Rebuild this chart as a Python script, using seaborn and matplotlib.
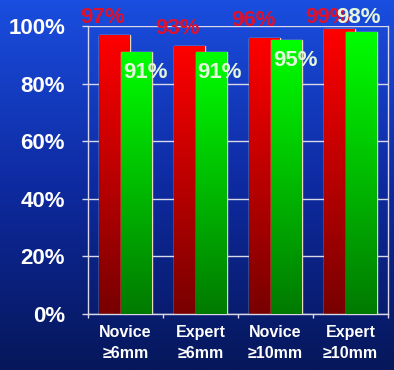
import numpy as np
import pandas as pd
import matplotlib
matplotlib.use("Agg")
import matplotlib.pyplot as plt
from matplotlib.colors import LinearSegmentedColormap
import seaborn as sns

# Données du graphique
categories = ["Novice\n≥6mm", "Expert\n≥6mm", "Novice\n≥10mm", "Expert\n≥10mm"]
red_values = [97, 93, 96, 99]
green_values = [91, 91, 95, 98]
y_ticks = [0, 20, 40, 60, 80, 100]

sns.set_style("white")
plt.rcParams['font.family'] = ['Liberation Sans', 'DejaVu Sans']
plt.rcParams['font.weight'] = 'bold'

fig = plt.figure(figsize=(3.94, 3.70), dpi=100)

# Fond dégradé bleu
bg = fig.add_axes([0, 0, 1, 1], zorder=-1)
bg_cmap = LinearSegmentedColormap.from_list("bg", ["#1a4ee0", "#0e2aa0", "#06175a"])
bg.imshow(np.linspace(0, 1, 256).reshape(-1, 1), aspect='auto', cmap=bg_cmap,
          extent=[0, 1, 0, 1])
bg.set_axis_off()

ax = fig.add_axes([88 / 394, 56 / 370, 300 / 394, 288 / 370])
ax.set_facecolor('none')

pos = np.arange(len(categories))
df = pd.DataFrame({"pos": np.concatenate([pos - 0.147, pos + 0.147]),
                   "val": red_values + green_values,
                   "serie": ["rouge"] * 4 + ["vert"] * 4})

dr = df[df.serie == "rouge"]
dg = df[df.serie == "vert"]
sns.barplot(data=dr, x="pos", y="val", native_scale=True, orient="x", width=0.41,
            color="red", edgecolor="#e8dcc0", linewidth=1, ax=ax, zorder=2)
n_red = len(ax.patches)
sns.barplot(data=dg, x="pos", y="val", native_scale=True, orient="x", width=0.41,
            color="lime", edgecolor="#e8dcc0", linewidth=1, ax=ax, zorder=3)

# Dégradé vertical dans les barres
red_cmap = LinearSegmentedColormap.from_list("r", ["#780000", "#ff0000"])
green_cmap = LinearSegmentedColormap.from_list("g", ["#007a00", "#00ff00"])
grad = np.linspace(0, 1, 256).reshape(-1, 1)
for i, p in enumerate(ax.patches):
    cmap = red_cmap if i < n_red else green_cmap
    x0, w, h = p.get_x(), p.get_width(), p.get_height()
    im = ax.imshow(grad, aspect='auto', cmap=cmap, origin='lower',
                   extent=[x0, x0 + w, 0, h], zorder=p.get_zorder())
    im.set_clip_path(p)

# Étiquettes de valeurs
for i, v in enumerate(red_values):
    ax.text(i - 0.3, min(v + 6, 103), f"{v}%", color="#e0102a", fontsize=16,
            fontweight='bold', ha='center', va='center', zorder=5)
for i, v in enumerate(green_values):
    if v >= 98:
        x, y = i + 0.11, 103
    else:
        x, y = i + 0.26, v - 7
    ax.text(x, y, f"{v}%", color="#e4f7dc", fontsize=16, fontweight='bold',
            ha='center', va='center', zorder=6)

ax.set_xlim(-0.5, 3.5)
ax.set_ylim(0, 100)
ax.set_yticks(y_ticks)
ax.set_yticklabels([f"{t}%" for t in y_ticks])
ax.set_xticks(pos)
ax.set_xticklabels(categories, linespacing=1.5)
ax.set_xticks(np.arange(-0.5, 4, 1), minor=True)
ax.set_xlabel("")
ax.set_ylabel("")

ax.yaxis.grid(True, color="#d8d8e8", linewidth=1, zorder=0)
ax.set_axisbelow(True)
ax.tick_params(axis='y', colors="#d8d8e8", labelcolor="white", labelsize=16,
               length=4.5, width=1, pad=12, left=True, direction='out')
ax.tick_params(axis='x', which='major', labelcolor="white", labelsize=11.5,
               length=0, pad=8)
ax.tick_params(axis='x', which='minor', colors="#d8d8e8", length=3, width=1,
               bottom=True, direction='out')
for t in ax.get_xticklabels() + ax.get_yticklabels():
    t.set_fontweight('bold')

for s in ["left", "right", "bottom"]:
    ax.spines[s].set_visible(True)
    ax.spines[s].set_color("#d8d8e8")
    ax.spines[s].set_linewidth(1)
ax.spines["top"].set_visible(False)

fig.savefig("out.png", dpi=100)
